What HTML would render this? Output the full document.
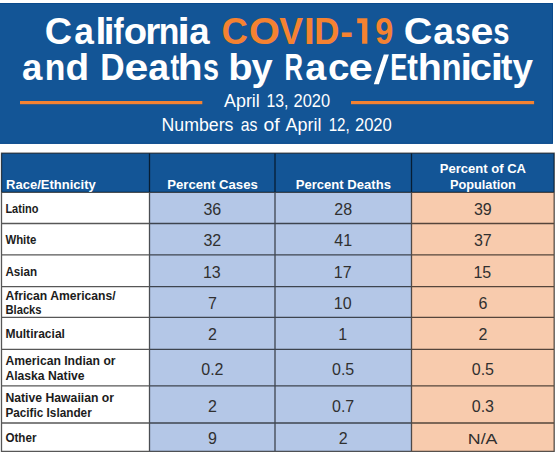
<!DOCTYPE html>
<html><head><meta charset="utf-8"><style>
html,body{margin:0;padding:0;background:#fff;width:558px;height:460px;overflow:hidden}
svg{display:block}
text{font-family:"Liberation Sans",sans-serif}
</style></head><body>
<svg width="558" height="460" viewBox="0 0 558 460">
<rect x="0" y="3" width="553" height="140.8" fill="#135596"/>
<path d="M0 3.5H552.5V143.3H0" stroke="#0A4A8C" stroke-width="1" fill="none"/>
<polygon points="373.8,84.3 378.9,84.3 388.9,54.4 383.8,54.4" fill="#fff"/>
<polygon points="357.2,18.2 367.4,18.2 367.4,43.8 362.1,43.8 362.1,23.2 357.2,23.2" fill="#F58231"/>
<rect x="20" y="101" width="182.3" height="3.2" fill="#F58231"/>
<rect x="351" y="101" width="183.1" height="3.2" fill="#F58231"/>
<rect x="1.5" y="153.2" width="552.7" height="39.20000000000002" fill="#135596"/>
<rect x="1.5" y="192.4" width="148.0" height="259.0" fill="#fff"/>
<rect x="149.5" y="192.4" width="262.0" height="259.0" fill="#B4C7E7"/>
<rect x="411.5" y="192.4" width="142.70000000000005" height="259.0" fill="#F8CBAD"/>
<path d="M0.85 153.20H554.85 M0.85 192.40H554.85 M0.85 223.50H554.85 M0.85 254.90H554.85 M0.85 286.65H554.85 M0.85 317.40H554.85 M0.85 349.35H554.85 M0.85 385.80H554.85 M0.85 423.00H554.85 M0.85 451.30H554.85 M1.50 152.55V452.05 M149.50 152.55V452.05 M275.00 152.55V452.05 M411.50 152.55V452.05 M554.20 152.55V452.05" stroke="rgba(0,0,0,0.66)" stroke-width="1.3" fill="none"/>
<text transform="translate(44.65 43.80) scale(1.0074 1)" font-weight="bold" font-size="37.5" fill="#fff">C</text>
<text transform="translate(74.17 43.80) scale(0.9402 1)" font-weight="bold" font-size="37.5" fill="#fff">a</text>
<text transform="translate(95.55 43.80) scale(1.0495 1)" font-weight="bold" font-size="37.5" fill="#fff">l</text>
<text transform="translate(103.70 43.80) scale(1.0301 1)" font-weight="bold" font-size="37.5" fill="#fff">i</text>
<text transform="translate(113.38 43.80) scale(0.8137 1)" font-weight="bold" font-size="37.5" fill="#fff">f</text>
<text transform="translate(123.70 43.80) scale(1.0212 1)" font-weight="bold" font-size="37.5" fill="#fff">o</text>
<text transform="translate(145.25 43.80) scale(1.0300 1)" font-weight="bold" font-size="37.5" fill="#fff">r</text>
<text transform="translate(158.68 43.80) scale(0.9001 1)" font-weight="bold" font-size="37.5" fill="#fff">n</text>
<text transform="translate(177.19 43.80) scale(1.2244 1)" font-weight="bold" font-size="37.5" fill="#fff">i</text>
<text transform="translate(189.33 43.80) scale(0.9752 1)" font-weight="bold" font-size="37.5" fill="#fff">a</text>
<text transform="translate(403.78 43.80) scale(1.0523 1)" font-weight="bold" font-size="37.5" fill="#fff">C</text>
<text transform="translate(433.31 43.80) scale(0.9952 1)" font-weight="bold" font-size="37.5" fill="#fff">a</text>
<text transform="translate(455.12 43.80) scale(0.7445 1)" font-weight="bold" font-size="37.5" fill="#fff">s</text>
<text transform="translate(470.59 43.80) scale(1.0989 1)" font-weight="bold" font-size="37.5" fill="#fff">e</text>
<text transform="translate(493.17 43.80) scale(0.7778 1)" font-weight="bold" font-size="37.5" fill="#fff">s</text>
<text transform="translate(221.50 43.80) scale(0.9748 1)" font-weight="bold" font-size="37.5" fill="#F58231">C</text>
<text transform="translate(248.97 43.80) scale(1.0593 1)" font-weight="bold" font-size="37.5" fill="#F58231">O</text>
<text transform="translate(279.26 43.80) scale(0.9510 1)" font-weight="bold" font-size="37.5" fill="#F58231">V</text>
<text transform="translate(304.00 43.80) scale(1.0367 1)" font-weight="bold" font-size="37.5" fill="#F58231">I</text>
<text transform="translate(314.27 43.80) scale(0.9305 1)" font-weight="bold" font-size="37.5" fill="#F58231">D</text>
<text transform="translate(340.31 43.80) scale(1.0187 1)" font-weight="bold" font-size="37.5" fill="#F58231">-</text>
<text transform="translate(375.28 43.80) scale(0.8643 1)" font-weight="bold" font-size="37.5" fill="#F58231">9</text>
<text transform="translate(22.03 80.40) scale(0.9752 1)" font-weight="bold" font-size="37.5" fill="#fff">a</text>
<text transform="translate(44.78 80.40) scale(0.9001 1)" font-weight="bold" font-size="37.5" fill="#fff">n</text>
<text transform="translate(65.41 80.40) scale(1.0319 1)" font-weight="bold" font-size="37.5" fill="#fff">d</text>
<text transform="translate(100.14 80.40) scale(0.9001 1)" font-weight="bold" font-size="37.5" fill="#fff">D</text>
<text transform="translate(124.53 80.40) scale(1.1431 1)" font-weight="bold" font-size="37.5" fill="#fff">e</text>
<text transform="translate(148.30 80.40) scale(1.0002 1)" font-weight="bold" font-size="37.5" fill="#fff">a</text>
<text transform="translate(170.38 80.40) scale(0.6999 1)" font-weight="bold" font-size="37.5" fill="#fff">t</text>
<text transform="translate(177.86 80.40) scale(1.0856 1)" font-weight="bold" font-size="37.5" fill="#fff">h</text>
<text transform="translate(202.89 80.40) scale(0.7667 1)" font-weight="bold" font-size="37.5" fill="#fff">s</text>
<text transform="translate(228.37 80.40) scale(1.0637 1)" font-weight="bold" font-size="37.5" fill="#fff">b</text>
<text transform="translate(251.40 80.40) scale(1.0166 1)" font-weight="bold" font-size="37.5" fill="#fff">y</text>
<text transform="translate(284.48 80.40) scale(0.6848 1)" font-weight="bold" font-size="37.5" fill="#fff">R</text>
<text transform="translate(305.20 80.40) scale(1.0052 1)" font-weight="bold" font-size="37.5" fill="#fff">a</text>
<text transform="translate(327.99 80.40) scale(1.0278 1)" font-weight="bold" font-size="37.5" fill="#fff">c</text>
<text transform="translate(348.49 80.40) scale(1.1652 1)" font-weight="bold" font-size="37.5" fill="#fff">e</text>
<text transform="translate(390.28 80.40) scale(0.6844 1)" font-weight="bold" font-size="37.5" fill="#fff">E</text>
<text transform="translate(407.31 80.40) scale(0.8555 1)" font-weight="bold" font-size="37.5" fill="#fff">t</text>
<text transform="translate(417.84 80.40) scale(1.0522 1)" font-weight="bold" font-size="37.5" fill="#fff">h</text>
<text transform="translate(441.77 80.40) scale(0.8614 1)" font-weight="bold" font-size="37.5" fill="#fff">n</text>
<text transform="translate(460.40 80.40) scale(1.1078 1)" font-weight="bold" font-size="37.5" fill="#fff">i</text>
<text transform="translate(469.75 80.40) scale(1.0606 1)" font-weight="bold" font-size="37.5" fill="#fff">c</text>
<text transform="translate(490.59 80.40) scale(1.2244 1)" font-weight="bold" font-size="37.5" fill="#fff">i</text>
<text transform="translate(500.98 80.40) scale(0.9160 1)" font-weight="bold" font-size="37.5" fill="#fff">t</text>
<text transform="translate(512.41 80.40) scale(0.9823 1)" font-weight="bold" font-size="37.5" fill="#fff">y</text>
<text transform="translate(224.00 106.90) scale(1.0228 1)" font-weight="normal" font-size="17.5" fill="#fff">April</text>
<text transform="translate(266.40 106.90) scale(0.8992 1)" font-weight="normal" font-size="17.5" fill="#fff">13,</text>
<text transform="translate(293.50 106.90) scale(0.9388 1)" font-weight="normal" font-size="17.5" fill="#fff">2020</text>
<text transform="translate(161.49 131.30) scale(1.0136 1)" font-weight="normal" font-size="17.5" fill="#fff">Numbers</text>
<text transform="translate(240.70 131.30) scale(0.9022 1)" font-weight="normal" font-size="17.5" fill="#fff">as</text>
<text transform="translate(263.40 131.30) scale(1.1064 1)" font-weight="normal" font-size="17.5" fill="#fff">of</text>
<text transform="translate(285.60 131.30) scale(1.0258 1)" font-weight="normal" font-size="17.5" fill="#fff">April</text>
<text transform="translate(328.64 131.30) scale(0.8636 1)" font-weight="normal" font-size="17.5" fill="#fff">12,</text>
<text transform="translate(354.90 131.30) scale(0.9490 1)" font-weight="normal" font-size="17.5" fill="#fff">2020</text>
<text transform="translate(6.10 189.20) scale(1.0016 1)" font-weight="bold" font-size="13" fill="#fff">Race/Ethnicity</text>
<text transform="translate(167.20 189.20) scale(1.0114 1)" font-weight="bold" font-size="13" fill="#fff">Percent Cases</text>
<text transform="translate(295.75 189.20) scale(1.0067 1)" font-weight="bold" font-size="13" fill="#fff">Percent Deaths</text>
<text transform="translate(439.70 173.30) scale(1.0061 1)" font-weight="bold" font-size="13" fill="#fff">Percent of CA</text>
<text transform="translate(449.90 189.20) scale(0.9834 1)" font-weight="bold" font-size="13" fill="#fff">Population</text>
<text transform="translate(5.40 212.70) scale(0.8796 1)" font-weight="bold" font-size="12.5" fill="#1c1c1c">Latino</text>
<text transform="translate(5.40 243.90) scale(0.9129 1)" font-weight="bold" font-size="12.5" fill="#1c1c1c">White</text>
<text transform="translate(5.40 275.80) scale(0.9310 1)" font-weight="bold" font-size="12.5" fill="#1c1c1c">Asian</text>
<text transform="translate(5.40 299.90) scale(0.9724 1)" font-weight="bold" font-size="12.5" fill="#1c1c1c">African Americans/</text>
<text transform="translate(5.40 313.80) scale(0.8995 1)" font-weight="bold" font-size="12.5" fill="#1c1c1c">Blacks</text>
<text transform="translate(5.40 337.80) scale(0.9633 1)" font-weight="bold" font-size="12.5" fill="#1c1c1c">Multiracial</text>
<text transform="translate(5.40 364.80) scale(0.9739 1)" font-weight="bold" font-size="12.5" fill="#1c1c1c">American Indian or</text>
<text transform="translate(5.40 379.70) scale(0.9748 1)" font-weight="bold" font-size="12.5" fill="#1c1c1c">Alaska Native</text>
<text transform="translate(5.40 401.75) scale(0.9777 1)" font-weight="bold" font-size="12.5" fill="#1c1c1c">Native Hawaiian or</text>
<text transform="translate(5.40 416.50) scale(0.9429 1)" font-weight="bold" font-size="12.5" fill="#1c1c1c">Pacific Islander</text>
<text transform="translate(5.40 441.60) scale(0.9321 1)" font-weight="bold" font-size="12.5" fill="#1c1c1c">Other</text>
<text transform="translate(203.45 215.05) scale(1.0000 1)" font-weight="normal" font-size="16" fill="#303030">36</text>
<text transform="translate(334.25 215.05) scale(1.0000 1)" font-weight="normal" font-size="16" fill="#303030">28</text>
<text transform="translate(473.95 215.05) scale(1.0000 1)" font-weight="normal" font-size="16" fill="#303030">39</text>
<text transform="translate(203.45 246.30) scale(1.0000 1)" font-weight="normal" font-size="16" fill="#303030">32</text>
<text transform="translate(334.25 246.30) scale(1.0000 1)" font-weight="normal" font-size="16" fill="#303030">41</text>
<text transform="translate(473.95 246.30) scale(1.0000 1)" font-weight="normal" font-size="16" fill="#303030">37</text>
<text transform="translate(202.95 277.88) scale(1.0000 1)" font-weight="normal" font-size="16" fill="#303030">13</text>
<text transform="translate(333.75 277.88) scale(1.0000 1)" font-weight="normal" font-size="16" fill="#303030">17</text>
<text transform="translate(473.45 277.88) scale(1.0000 1)" font-weight="normal" font-size="16" fill="#303030">15</text>
<text transform="translate(207.90 309.12) scale(1.0000 1)" font-weight="normal" font-size="16" fill="#303030">7</text>
<text transform="translate(333.75 309.12) scale(1.0000 1)" font-weight="normal" font-size="16" fill="#303030">10</text>
<text transform="translate(478.40 309.12) scale(1.0000 1)" font-weight="normal" font-size="16" fill="#303030">6</text>
<text transform="translate(207.90 340.48) scale(1.0000 1)" font-weight="normal" font-size="16" fill="#303030">2</text>
<text transform="translate(338.20 340.48) scale(1.0000 1)" font-weight="normal" font-size="16" fill="#303030">1</text>
<text transform="translate(478.40 340.48) scale(1.0000 1)" font-weight="normal" font-size="16" fill="#303030">2</text>
<text transform="translate(201.23 374.68) scale(1.0000 1)" font-weight="normal" font-size="16" fill="#303030">0.2</text>
<text transform="translate(332.03 374.68) scale(1.0000 1)" font-weight="normal" font-size="16" fill="#303030">0.5</text>
<text transform="translate(471.73 374.68) scale(1.0000 1)" font-weight="normal" font-size="16" fill="#303030">0.5</text>
<text transform="translate(207.90 411.50) scale(1.0000 1)" font-weight="normal" font-size="16" fill="#303030">2</text>
<text transform="translate(332.03 411.50) scale(1.0000 1)" font-weight="normal" font-size="16" fill="#303030">0.7</text>
<text transform="translate(471.73 411.50) scale(1.0000 1)" font-weight="normal" font-size="16" fill="#303030">0.3</text>
<text transform="translate(207.90 444.25) scale(1.0000 1)" font-weight="normal" font-size="16" fill="#303030">9</text>
<text transform="translate(338.70 444.25) scale(1.0000 1)" font-weight="normal" font-size="16" fill="#303030">2</text>
<text transform="translate(467.80 444.05) scale(1.2018 1)" font-weight="normal" font-size="14.8" fill="#303030">N/A</text>
</svg>
</body></html>
